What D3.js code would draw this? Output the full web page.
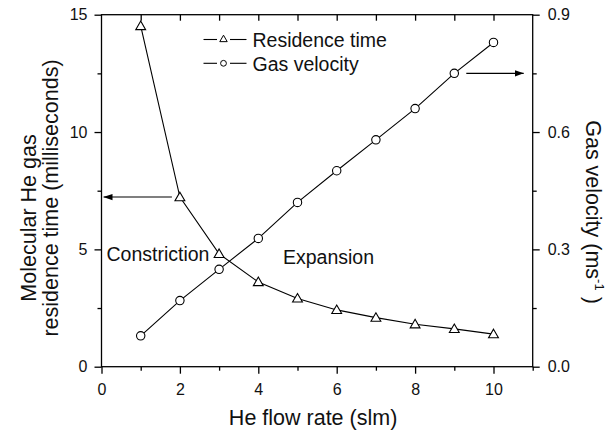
<!DOCTYPE html>
<html>
<head>
<meta charset="utf-8">
<script src="https://cdn.jsdelivr.net/npm/d3@7"></script>
<style>
  html, body { margin: 0; padding: 0; background: #fff; }
  svg { display: block; font-family: "Liberation Sans", Arial, Helvetica, sans-serif; }
</style>
</head>
<body>
<svg id="chart" width="614" height="431"></svg>
<script>
// He flow rate (slm)
const flowRate = [1, 2, 3, 4, 5, 6, 7, 8, 9, 10];
// Molecular He gas residence time (ms), left axis
const residenceTime = [14.52, 7.23, 4.81, 3.61, 2.91, 2.42, 2.09, 1.81, 1.61, 1.39];
// Gas velocity (m/s), right axis
const gasVelocity = [0.079, 0.169, 0.249, 0.328, 0.42, 0.501, 0.58, 0.66, 0.75, 0.829];

const xMajor = [0, 2, 4, 6, 8, 10];
const xMinor = [1, 3, 5, 7, 9, 11];
const xTop = [1, 2, 3, 4, 5, 6, 7, 8, 9, 10];
const yLeftMajor = [0, 5, 10, 15];
const yLeftMinor = [2.5, 7.5, 12.5];
const yRightMajor = [0, 0.3, 0.6, 0.9];
const yRightMinor = [0.15, 0.45, 0.75];

const svg = d3.select("#chart");
const L = 101.5, R = 532.7, T = 14.7, B = 366.7;

const x = d3.scaleLinear().domain([0, 11]).range([L, R]);
const yL = d3.scaleLinear().domain([0, 15]).range([B, T]);
const yR = d3.scaleLinear().domain([0, 0.9]).range([B, T]);

const axisStroke = 1.3;
function styleAxis(g) {
  g.select(".domain").remove();
  g.selectAll(".tick line").attr("stroke", "#000").attr("stroke-width", axisStroke);
  g.selectAll(".tick text").attr("fill", "#111").attr("font-size", "16px")
    .attr("font-family", "Liberation Sans, Arial, Helvetica, sans-serif");
}

// left axis
svg.append("g").attr("transform", `translate(${L},0)`)
  .call(d3.axisLeft(yL).tickValues(yLeftMajor).tickSize(7).tickPadding(7).tickFormat(d3.format("d")))
  .call(styleAxis);
svg.append("g").attr("transform", `translate(${L},0)`)
  .call(d3.axisLeft(yL).tickValues(yLeftMinor).tickSize(4).tickFormat(""))
  .call(styleAxis);

// bottom axis
svg.append("g").attr("transform", `translate(0,${B})`)
  .call(d3.axisBottom(x).tickValues(xMajor).tickSize(7).tickPadding(10).tickFormat(d3.format("d")))
  .call(styleAxis);
svg.append("g").attr("transform", `translate(0,${B})`)
  .call(d3.axisBottom(x).tickValues(xMinor).tickSize(4).tickFormat(""))
  .call(styleAxis);

// top axis, ticks pointing inward
svg.append("g").attr("transform", `translate(0,${T})`)
  .call(d3.axisTop(x).tickValues(xTop).tickSize(-6).tickFormat(""))
  .call(styleAxis);

// right axis
svg.append("g").attr("transform", `translate(${R},0)`)
  .call(d3.axisRight(yR).tickValues(yRightMajor).tickSize(7).tickPadding(8).tickFormat(d3.format(".1f")))
  .call(styleAxis);
svg.append("g").attr("transform", `translate(${R},0)`)
  .call(d3.axisRight(yR).tickValues(yRightMinor).tickSize(4).tickFormat(""))
  .call(styleAxis);

// frame
svg.append("rect")
  .attr("x", L).attr("y", T).attr("width", R - L).attr("height", B - T)
  .attr("fill", "none").attr("stroke", "#000").attr("stroke-width", axisStroke);

// arrow head marker
svg.append("defs").append("marker")
  .attr("id", "head").attr("viewBox", "0 0 10 10")
  .attr("refX", 10).attr("refY", 5)
  .attr("markerWidth", 9).attr("markerHeight", 9)
  .attr("markerUnits", "userSpaceOnUse")
  .attr("orient", "auto")
  .append("path").attr("d", "M0,1.5 L10,5 L0,8.5 Z").attr("fill", "#000");

// series lines
const resData = flowRate.map((f, i) => [f, residenceTime[i]]);
const velData = flowRate.map((f, i) => [f, gasVelocity[i]]);

svg.append("path").datum(resData)
  .attr("d", d3.line().x(d => x(d[0])).y(d => yL(d[1])))
  .attr("fill", "none").attr("stroke", "#000").attr("stroke-width", 1.1);
svg.append("path").datum(velData)
  .attr("d", d3.line().x(d => x(d[0])).y(d => yR(d[1])))
  .attr("fill", "none").attr("stroke", "#000").attr("stroke-width", 1.1);

// markers
const tri = d3.symbol().type(d3.symbolTriangle).size(42);
svg.append("g").selectAll("path").data(resData).join("path")
  .attr("transform", d => `translate(${x(d[0])},${yL(d[1]) + 0.8})`)
  .attr("d", tri)
  .attr("fill", "#fff").attr("stroke", "#000").attr("stroke-width", 1.1);
svg.append("g").selectAll("circle").data(velData).join("circle")
  .attr("cx", d => x(d[0])).attr("cy", d => yR(d[1])).attr("r", 4.2)
  .attr("fill", "#fff").attr("stroke", "#000").attr("stroke-width", 1.1);

// arrows pointing each series to its axis
const ya = yL(residenceTime[1]);
svg.append("line")
  .attr("x1", x(flowRate[1]) - 8).attr("x2", x(0) + 2)
  .attr("y1", ya).attr("y2", ya)
  .attr("stroke", "#000").attr("stroke-width", 1.1).attr("marker-end", "url(#head)");
const yb = yR(gasVelocity[8]);
svg.append("line")
  .attr("x1", x(flowRate[8]) + 12).attr("x2", x(11) - 9)
  .attr("y1", yb).attr("y2", yb)
  .attr("stroke", "#000").attr("stroke-width", 1.1).attr("marker-end", "url(#head)");

// legend
const legend = svg.append("g");
const legendRows = [
  { label: "Residence time", y: 39.5, shape: "tri" },
  { label: "Gas velocity", y: 63.3, shape: "circle" }
];
legendRows.forEach(r => {
  legend.append("line").attr("x1", 203.5).attr("x2", 217).attr("y1", r.y).attr("y2", r.y)
    .attr("stroke", "#000").attr("stroke-width", 1.1);
  legend.append("line").attr("x1", 230).attr("x2", 246.5).attr("y1", r.y).attr("y2", r.y)
    .attr("stroke", "#000").attr("stroke-width", 1.1);
  if (r.shape === "tri") {
    legend.append("path").attr("transform", `translate(223.5,${r.y})`)
      .attr("d", d3.symbol().type(d3.symbolTriangle).size(24))
      .attr("fill", "#fff").attr("stroke", "#000").attr("stroke-width", 1);
  } else {
    legend.append("circle").attr("cx", 223.5).attr("cy", r.y).attr("r", 2.9)
      .attr("fill", "#fff").attr("stroke", "#000").attr("stroke-width", 1);
  }
  legend.append("text").attr("x", 252.5).attr("y", r.y + 7.2)
    .attr("font-size", "19.5px").attr("fill", "#111").text(r.label);
});

// region annotations
svg.append("text").attr("x", 106.5).attr("y", 260.5)
  .attr("font-size", "19.5px").attr("fill", "#111").text("Constriction");
svg.append("text").attr("x", 283).attr("y", 264)
  .attr("font-size", "19.5px").attr("fill", "#111").text("Expansion");

// axis titles
svg.append("text").attr("x", (L + R) / 2 - 4).attr("y", 425)
  .attr("text-anchor", "middle").attr("font-size", "21.5px").attr("fill", "#111")
  .text("He flow rate (slm)");

svg.append("text").attr("transform", "translate(36,218) rotate(-90)")
  .attr("text-anchor", "middle").attr("font-size", "21.5px").attr("fill", "#111")
  .text("Molecular He gas");
svg.append("text").attr("transform", "translate(58,198) rotate(-90)")
  .attr("text-anchor", "middle").attr("font-size", "21.5px").attr("fill", "#111")
  .text("residence time (milliseconds)");

const rt = svg.append("text").attr("transform", "translate(586,212) rotate(90)")
  .attr("text-anchor", "middle").attr("font-size", "21.5px").attr("fill", "#111");
rt.append("tspan").text("Gas velocity (ms");
rt.append("tspan").attr("dy", -9).attr("font-size", "13px").text("-1");
rt.append("tspan").attr("dy", 9).text(" )");
</script>
</body>
</html>
